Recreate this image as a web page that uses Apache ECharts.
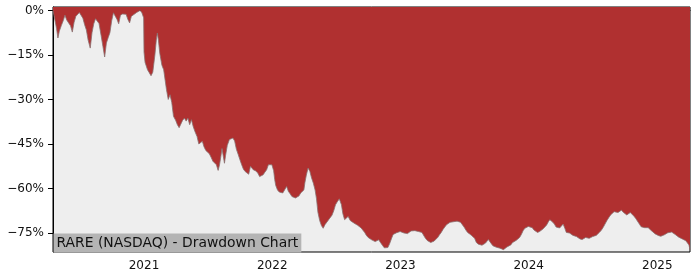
<!DOCTYPE html>
<html>
<head>
<meta charset="utf-8">
<script src="https://cdn.jsdelivr.net/npm/echarts@6/dist/echarts.min.js"></script>
<style>
html,body{margin:0;padding:0;background:#fff;}
#chart{width:700px;height:280px;}
</style>
</head>
<body>
<div id="chart"></div>
<script>
var dates = [
"2020-04-17","2020-04-21","2020-04-27","2020-05-01","2020-05-05","2020-05-11","2020-05-16","2020-05-21","2020-05-26",
"2020-06-01","2020-06-06","2020-06-11","2020-06-16","2020-06-21","2020-06-26","2020-07-01","2020-07-06","2020-07-11",
"2020-07-16","2020-07-21","2020-07-26","2020-08-01","2020-08-06","2020-08-11","2020-08-16","2020-08-21","2020-08-26",
"2020-09-01","2020-09-06","2020-09-11","2020-09-16","2020-09-21","2020-09-26","2020-10-01","2020-10-06","2020-10-11",
"2020-10-16","2020-10-21","2020-10-26","2020-11-01","2020-11-06","2020-11-11","2020-11-16","2020-11-21","2020-11-26",
"2020-12-01","2020-12-11","2020-12-16","2020-12-21","2020-12-26","2020-12-31",
"2021-01-01","2021-01-04","2021-01-11","2021-01-16","2021-01-21","2021-01-26","2021-02-01","2021-02-05","2021-02-08",
"2021-02-11","2021-02-15","2021-02-21","2021-02-26","2021-03-01","2021-03-06","2021-03-11","2021-03-16","2021-03-21",
"2021-03-26","2021-04-01","2021-04-06","2021-04-11","2021-04-16","2021-04-21","2021-04-26","2021-05-01","2021-05-06",
"2021-05-11","2021-05-16","2021-05-21","2021-05-26","2021-06-01","2021-06-06","2021-06-11","2021-06-16","2021-06-21",
"2021-06-26","2021-07-01","2021-07-06","2021-07-11","2021-07-16","2021-07-21","2021-07-26","2021-07-31","2021-08-04",
"2021-08-08","2021-08-11","2021-08-15","2021-08-18","2021-08-21","2021-08-26","2021-09-01","2021-09-06","2021-09-11",
"2021-09-16","2021-09-21","2021-09-26","2021-10-01","2021-10-06","2021-10-11","2021-10-16","2021-10-21","2021-10-26",
"2021-10-31","2021-11-04","2021-11-08","2021-11-14","2021-11-21","2021-11-26","2021-12-01","2021-12-06","2021-12-11",
"2021-12-16","2021-12-21","2021-12-26","2021-12-31",
"2022-01-05","2022-01-08","2022-01-11","2022-01-16","2022-01-21","2022-01-26","2022-01-31","2022-02-05","2022-02-11",
"2022-02-16","2022-02-21","2022-02-26","2022-03-03","2022-03-08","2022-03-13","2022-03-18","2022-03-23","2022-03-28",
"2022-04-01","2022-04-04","2022-04-08","2022-04-13","2022-04-18","2022-04-23","2022-04-28","2022-05-03","2022-05-07",
"2022-05-11","2022-05-16","2022-05-21","2022-05-26","2022-05-31","2022-06-05","2022-06-10","2022-06-15","2022-06-20",
"2022-06-25","2022-06-30","2022-07-05","2022-07-11","2022-07-13","2022-07-17","2022-07-21","2022-07-26","2022-07-31",
"2022-08-05","2022-08-11","2022-08-16","2022-08-21","2022-08-26","2022-09-01","2022-09-06","2022-09-11","2022-09-16",
"2022-09-21","2022-09-26","2022-10-01","2022-10-06","2022-10-11","2022-10-16","2022-10-21","2022-10-26","2022-10-31",
"2022-11-05","2022-11-11","2022-11-16","2022-11-21","2022-11-26","2022-12-01","2022-12-06","2022-12-11","2022-12-16",
"2022-12-21","2022-12-26","2022-12-31",
"2023-01-05","2023-01-11","2023-01-16","2023-01-21","2023-01-26","2023-01-31","2023-02-05","2023-02-11","2023-02-16",
"2023-02-21","2023-02-26","2023-03-03","2023-03-08","2023-03-13","2023-03-18","2023-03-23","2023-03-28","2023-04-02",
"2023-04-07","2023-04-12","2023-04-17","2023-04-22","2023-04-27","2023-05-02","2023-05-07","2023-05-12","2023-05-17",
"2023-05-22","2023-05-27","2023-06-01","2023-06-06","2023-06-11","2023-06-16","2023-06-21","2023-06-26","2023-07-01",
"2023-07-06","2023-07-11","2023-07-16","2023-07-21","2023-07-26","2023-07-31","2023-08-05","2023-08-11","2023-08-16",
"2023-08-21","2023-08-26","2023-08-31","2023-09-05","2023-09-08","2023-09-12","2023-09-16","2023-09-21","2023-09-26",
"2023-10-01","2023-10-06","2023-10-11","2023-10-16","2023-10-21","2023-10-26","2023-10-31","2023-11-05","2023-11-11",
"2023-11-16","2023-11-21","2023-11-26","2023-12-01","2023-12-06","2023-12-11","2023-12-16","2023-12-21","2023-12-26",
"2023-12-31",
"2024-01-05","2024-01-11","2024-01-16","2024-01-21","2024-01-26","2024-02-01","2024-02-06","2024-02-11","2024-02-16",
"2024-02-21","2024-02-26","2024-03-01","2024-03-05","2024-03-09","2024-03-14","2024-03-19","2024-03-24","2024-03-29",
"2024-04-03","2024-04-08","2024-04-10","2024-04-13","2024-04-17","2024-04-21","2024-04-26","2024-05-01","2024-05-06",
"2024-05-11","2024-05-16","2024-05-21","2024-05-26","2024-06-01","2024-06-06","2024-06-11","2024-06-16","2024-06-21",
"2024-06-26","2024-07-01","2024-07-06","2024-07-11","2024-07-16","2024-07-21","2024-07-26","2024-07-31","2024-08-05",
"2024-08-11","2024-08-16","2024-08-21","2024-08-26","2024-08-31","2024-09-05","2024-09-11","2024-09-16","2024-09-21",
"2024-09-26","2024-10-01","2024-10-06","2024-10-11","2024-10-16","2024-10-21","2024-10-26","2024-10-31","2024-11-05",
"2024-11-11","2024-11-16","2024-11-21","2024-11-26","2024-12-01","2024-12-06","2024-12-11","2024-12-16","2024-12-21",
"2024-12-26","2024-12-31",
"2025-01-05","2025-01-11","2025-01-16","2025-01-21","2025-01-26","2025-01-31","2025-02-05","2025-02-11","2025-02-16",
"2025-02-21","2025-02-26","2025-03-03","2025-03-08","2025-03-13","2025-03-18","2025-03-23","2025-03-28","2025-04-01",
"2025-04-04"
];
var drawdown = [
0,-0.5,-6,-9.3,-7,-5,-3.5,-1.6,-3.2,
-4.3,-5.2,-7.3,-4,-2,-1.4,-0.7,-0.3,-2.6,
-4.8,-6.6,-10,-12.7,-7.5,-4.5,-2.8,-3.2,-4.4,
-8.5,-12.1,-15.7,-11,-9.2,-7.5,-3.5,-0.8,-0.8,
-3,-4.5,-1.6,-1.2,-0.8,-1.3,-3,-4.2,-2,
-1.4,-0.7,-0.3,0,-0.8,-2.5,
-14,-17.5,-20,-21,-22,-20.8,-15,-10,-7.6,
-10,-14.5,-18.5,-20,-20.5,-26.7,-30,-28.4,-31,
-35.7,-37,-38.5,-39.5,-39,-37,-36.3,-37.3,-36.3,
-38.5,-36.8,-39.1,-40.8,-42.5,-45,-45.5,-44.1,-46,
-47.2,-47,-48.3,-49.5,-50.8,-50.3,-52,-53.9,-52,
-49,-46.5,-46,-51.5,-49,-45.5,-43.5,-43,-43,
-44,-46.8,-48.5,-50.3,-52,-53.5,-54.3,-54.8,-55.2,
-52.5,-52,-53.7,-54,-54.8,-56,-56.5,-55.4,-54.5,
-53.7,-52,-51.8,-52,
-54,-57,-59,-60.5,-61.2,-61.8,-61.5,-60.5,-59.3,
-61,-61.8,-62.7,-63,-63.2,-62.8,-62.5,-61.5,-61,
-60.5,-58,-55.5,-53.1,-54.2,-56.5,-58.2,-60.5,-63.5,
-68,-70.8,-72.5,-73.4,-72.2,-71.7,-70.6,-70.5,-69,
-67.5,-65.5,-64.5,-63.5,-63.2,-65.5,-68.5,-70.5,-70,
-69.4,-70.8,-71.1,-71.6,-71.8,-72.4,-72.8,-73.3,-73.9,
-74.8,-75.8,-76.5,-77.1,-77.3,-77.6,-77.9,-78.2,-77.3,
-78.2,-79.2,-80,-80.1,-79.9,-78.6,-77,-75.5,-75.2,
-74.9,-74.8,-74.5,
-73.9,-75,-75.5,-75.2,-74.8,-74.3,-73.9,-74.2,-74.5,
-74.5,-74.5,-74.8,-75.2,-76.8,-77.5,-78,-78.2,-78.1,
-77.7,-77.2,-76.5,-75.6,-74.8,-73.8,-73,-72.2,-71.7,
-71.4,-71.3,-71.2,-71.1,-71,-70.8,-71.4,-72.2,-73,
-74,-74.8,-75.3,-75.7,-76.1,-76.8,-78.2,-78.8,-79.2,
-79.1,-79,-78.4,-77.8,-77.2,-77.1,-78.5,-79.3,-79.6,
-79.8,-80,-80.1,-80.3,-80.6,-80.9,-79.7,-79.5,-79,
-78.2,-77.8,-77.5,-77,-76.5,-75.5,-74.2,-73.4,-72.9,
-72.8,
-72.8,-73.2,-74,-74.4,-74.8,-74.5,-74.3,-73.6,-73,
-72.3,-71.2,-70.5,-70.6,-71.3,-72,-73,-73.4,-73.3,
-73,-72,-71.5,-73.5,-74.8,-75,-75,-75.2,-75.8,
-76.2,-76.2,-76.5,-77,-77.2,-77.3,-76.5,-76.2,-76.8,
-76.8,-76.2,-76,-75.8,-75.3,-74.7,-74,-73.1,-72,
-70.7,-69.8,-68.9,-68.3,-67.8,-67.9,-68.1,-67.5,-67.3,
-68,-68.5,-68.9,-68.6,-68.1,-68.6,-69.3,-70,-70.6,
-72,-72.9,-73.3,-73.2,-72.9,-73.2,-73.8,-74.3,-74.9,
-75.3,-75.6,
-75.9,-76.1,-75.9,-75.6,-75.2,-74.9,-74.6,-74.7,-75,
-75.5,-76,-76.4,-76.8,-77,-77.3,-77.6,-78,-79,
-80.7
];
var yTicks = [0, -15, -30, -45, -60, -75];
var xTickYears = [2021, 2022, 2023, 2024, 2025];
var xMin = "2020-04-17";
var xMax = "2025-04-04";
var titleText = "RARE (NASDAQ) - Drawdown Chart";

function toTime(s) {
  var p = s.split('-');
  return Date.UTC(+p[0], +p[1] - 1, +p[2]);
}
var seriesData = dates.map(function (d, i) { return [toTime(d), drawdown[i]]; });
var xTickValues = xTickYears.map(function (y) { return Date.UTC(y, 0, 1); });

var chart = echarts.init(document.getElementById('chart'), null, {renderer: 'canvas'});
var font = 'DejaVu Sans';
chart.setOption({
  animation: false,
  grid: {
    left: 53, right: 10, top: 7, bottom: 28,
    show: true, backgroundColor: '#eeeeee', borderColor: '#000', borderWidth: 1
  },
  xAxis: {
    type: 'value',
    min: toTime(xMin), max: toTime(xMax),
    splitLine: {show: false},
    axisLine: {show: true, lineStyle: {color: '#000', width: 1}},
    axisTick: {show: true, length: 5, lineStyle: {color: '#000'}, customValues: xTickValues},
    axisLabel: {
      show: true, margin: 8, color: '#111', fontFamily: font, fontSize: 12,
      customValues: xTickValues,
      formatter: function (v) { return String(new Date(v).getUTCFullYear()); }
    }
  },
  yAxis: {
    type: 'value',
    min: -81.4, max: 1.15,
    splitLine: {show: false},
    axisLine: {show: true, lineStyle: {color: '#000', width: 1}},
    axisTick: {show: true, length: 5, lineStyle: {color: '#000'}, customValues: yTicks},
    axisLabel: {
      show: true, margin: 9, color: '#111', fontFamily: font, fontSize: 12,
      customValues: yTicks,
      formatter: function (v) { return (v < 0 ? '\u2212' : '') + Math.abs(v) + '%'; }
    }
  },
  series: [{
    type: 'line',
    data: seriesData,
    showSymbol: false,
    symbol: 'none',
    lineStyle: {color: '#8a7070', width: 0.8},
    areaStyle: {color: '#b03030', opacity: 1, origin: 'end'},
    z: 2
  }],
  graphic: [{
    type: 'text',
    left: 53.5,
    top: 233.5,
    z: 100,
    style: {
      text: titleText,
      font: '13.9px DejaVu Sans',
      fill: '#111',
      backgroundColor: '#b4b4b4',
      padding: [3, 3, 2, 3]
    }
  }]
});
</script>
</body>
</html>
